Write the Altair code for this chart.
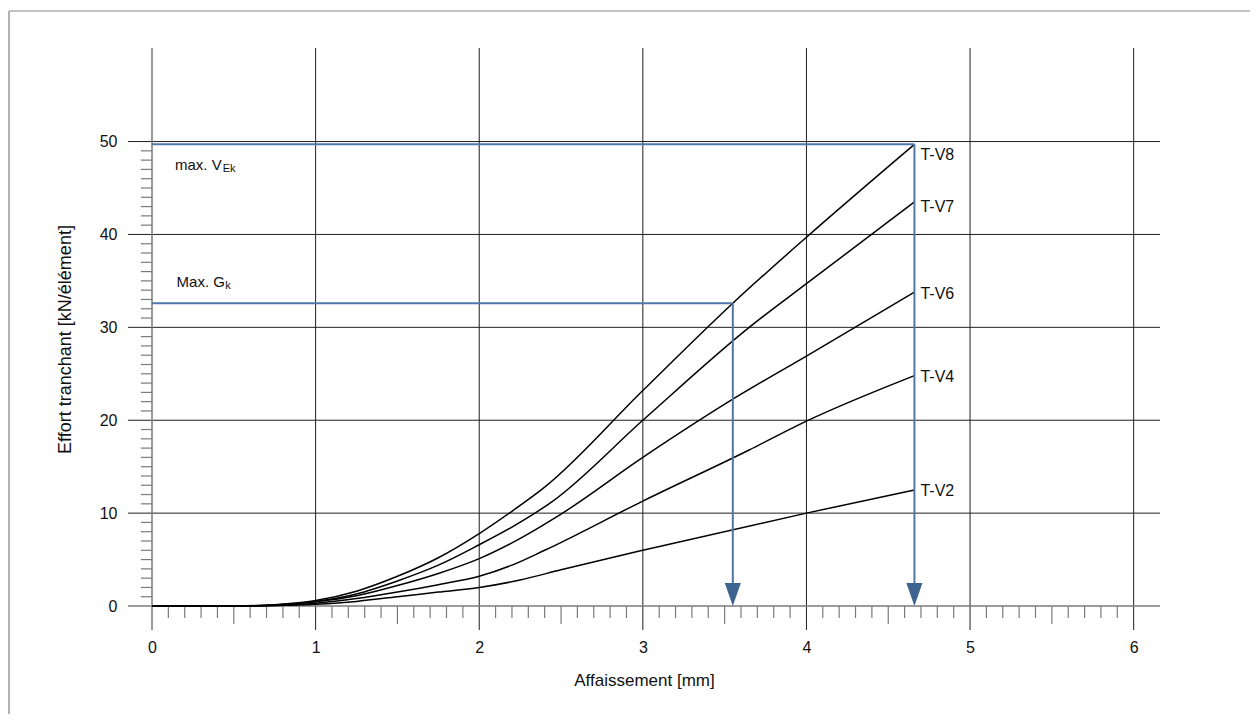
import altair as alt
import pandas as pd

# ---------------- data ----------------
series = ["T-V8", "T-V7", "T-V6", "T-V4", "T-V2"]

tv8_x = [0, 0.5, 0.75, 1.0, 1.25, 1.5, 1.75, 2.0, 2.2, 2.4, 3.0, 3.55, 4.0, 4.66]
tv8_y = [0, 0, 0.15, 0.6, 1.6, 3.2, 5.2, 7.8, 10.2, 12.8, 23.2, 32.6, 39.7, 49.7]

tv7_x = [0, 0.5, 0.75, 1.0, 1.25, 1.5, 1.75, 2.0, 2.2, 2.45, 3.0, 3.65, 4.0, 4.66]
tv7_y = [0, 0, 0.12, 0.5, 1.3, 2.7, 4.4, 6.6, 8.5, 11.3, 20.0, 30.0, 34.7, 43.5]

tv6_x = [0, 0.5, 0.75, 1.0, 1.25, 1.5, 1.75, 2.0, 2.2, 2.5, 3.0, 3.6, 4.0, 4.66]
tv6_y = [0, 0, 0.1, 0.45, 1.1, 2.2, 3.5, 5.1, 6.8, 9.9, 16.0, 22.8, 26.9, 33.8]

tv4_x = [0, 0.5, 0.75, 1.0, 1.25, 1.5, 1.75, 2.0, 2.2, 2.4, 3.0, 3.65, 4.0, 4.66]
tv4_y = [0, 0, 0.07, 0.3, 0.8, 1.5, 2.3, 3.2, 4.4, 6.0, 11.3, 16.8, 19.9, 24.8]

tv2_x = [0, 0.5, 0.75, 1.0, 1.25, 1.5, 1.75, 2.0, 2.25, 2.5, 3.0, 4.0, 4.66]
tv2_y = [0, 0, 0.05, 0.2, 0.5, 1.0, 1.5, 2.0, 2.8, 3.9, 6.0, 10.0, 12.5]

label_y = [48.6, 43.0, 33.6, 24.7, 12.4]
label_x = 4.66

x_ticks = [0, 1, 2, 3, 4, 5, 6]
y_ticks = [0, 10, 20, 30, 40, 50]

max_vek = 49.7
max_vek_x = 4.66
max_gk = 32.6
max_gk_x = 3.55

X_DOM = [-0.1467, 6.161]
Y_DOM = [-2.58, 60.07]

FONT = "Liberation Sans"
BLUE = "#4f78a6"
ARROW = "#3d6590"
GRID = "#1e1e1e"
AXIS = "#7a7a7a"
TXT = "#111111"

xs = alt.Scale(domain=X_DOM, nice=False, zero=False)
ys = alt.Scale(domain=Y_DOM, nice=False, zero=False)

# ---------------- tables ----------------
rows = []
for name, xv, yv in zip(series, [tv8_x, tv7_x, tv6_x, tv4_x, tv2_x],
                        [tv8_y, tv7_y, tv6_y, tv4_y, tv2_y]):
    for i, (a, b) in enumerate(zip(xv, yv)):
        rows.append({"s": name, "x": a, "y": b, "o": i})
curves = pd.DataFrame(rows)

labels = pd.DataFrame({"s": series, "x": [label_x] * 5, "y": label_y})

vgrid = pd.DataFrame({"x": [t for t in x_ticks if t != 0], "y": Y_DOM[0], "y2": Y_DOM[1]})
hgrid = pd.DataFrame({"y": [t for t in y_ticks if t != 0], "x": X_DOM[0], "x2": X_DOM[1]})

minor_x = [round(i / 10, 1) for i in range(1, 60) if i % 10 != 0]
xmin_df = pd.DataFrame({"x": minor_x,
                        "y2": [-1.94 if round(v * 10) % 5 == 0 else -1.29 for v in minor_x]})
xmin_df["y"] = 0
minor_y = [i for i in range(1, 50) if i % 10 != 0]
ymin_df = pd.DataFrame({"y": minor_y, "x": -0.068, "x2": 0})

blue_h = pd.DataFrame({"x": [0, 0], "x2": [max_vek_x, max_gk_x], "y": [max_vek, max_gk]})
blue_v = pd.DataFrame({"x": [max_vek_x, max_gk_x], "y": [max_vek, max_gk], "y2": [1.5, 1.5]})
arrows = pd.DataFrame({"x": [max_vek_x, max_gk_x], "y": [0, 0]})

ann_main = pd.DataFrame({"x": [0.1406, 0.15], "y": [47.5, 34.9], "t": ["max. V", "Max. G"]})
ann_sub = pd.DataFrame({"x": [0.432, 0.448], "y": [47.05, 34.4], "t": ["Ek", "k"]})

# ---------------- layers ----------------
base_x_axis = alt.Axis(values=x_ticks, format="d", title="Affaissement [mm]", domain=False,
                       ticks=False, grid=False, labelFontSize=16, labelPadding=9,
                       titleFontSize=17, titlePadding=17, labelFont=FONT, titleFont=FONT,
                       labelColor=TXT, titleColor=TXT, titleFontWeight="normal")
base_y_axis = alt.Axis(values=y_ticks, format="d", title="Effort tranchant [kN/élément]",
                       domain=False, ticks=False, grid=False, labelFontSize=16, labelPadding=11,
                       titleFontSize=18, titlePadding=25, labelFont=FONT, titleFont=FONT,
                       labelColor=TXT, titleColor=TXT, titleFontWeight="normal")

vgrid_l = alt.Chart(vgrid).mark_rule(color=GRID, strokeWidth=1).encode(
    x=alt.X("x:Q", scale=xs, axis=base_x_axis),
    y=alt.Y("y:Q", scale=ys, axis=base_y_axis),
    y2="y2:Q")
hgrid_l = alt.Chart(hgrid).mark_rule(color=GRID, strokeWidth=1).encode(
    x=alt.X("x:Q", scale=xs), x2="x2:Q", y=alt.Y("y:Q", scale=ys))

xaxis_line = alt.Chart(pd.DataFrame({"x": [X_DOM[0]], "x2": [X_DOM[1]], "y": [0]})).mark_rule(
    color=AXIS, strokeWidth=1.5).encode(x=alt.X("x:Q", scale=xs), x2="x2:Q", y=alt.Y("y:Q", scale=ys))
yaxis_line = alt.Chart(pd.DataFrame({"x": [0], "y": [Y_DOM[0]], "y2": [Y_DOM[1]]})).mark_rule(
    color=AXIS, strokeWidth=1.5).encode(x=alt.X("x:Q", scale=xs), y=alt.Y("y:Q", scale=ys), y2="y2:Q")

xmin_l = alt.Chart(xmin_df).mark_rule(color=AXIS, strokeWidth=1.2).encode(
    x=alt.X("x:Q", scale=xs), y=alt.Y("y:Q", scale=ys), y2="y2:Q")
ymin_l = alt.Chart(ymin_df).mark_rule(color=AXIS, strokeWidth=1.2).encode(
    x=alt.X("x:Q", scale=xs), x2="x2:Q", y=alt.Y("y:Q", scale=ys))

blue_h_l = alt.Chart(blue_h).mark_rule(color=BLUE, strokeWidth=2).encode(
    x=alt.X("x:Q", scale=xs), x2="x2:Q", y=alt.Y("y:Q", scale=ys))
blue_v_l = alt.Chart(blue_v).mark_rule(color=BLUE, strokeWidth=2).encode(
    x=alt.X("x:Q", scale=xs), y=alt.Y("y:Q", scale=ys), y2="y2:Q")
arrow_l = alt.Chart(arrows).mark_point(
    shape="M-0.7,-1L0.7,-1L0,1Z", filled=True, size=529, color=ARROW, opacity=1,
    yOffset=-11.5).encode(x=alt.X("x:Q", scale=xs), y=alt.Y("y:Q", scale=ys))

curve_l = alt.Chart(curves).mark_line(color="black", strokeWidth=1.5, interpolate="monotone").encode(
    x=alt.X("x:Q", scale=xs), y=alt.Y("y:Q", scale=ys), detail="s:N", order="o:Q")

label_l = alt.Chart(labels).mark_text(align="left", baseline="middle", dx=6, fontSize=16,
                                      font=FONT, color=TXT).encode(
    x=alt.X("x:Q", scale=xs), y=alt.Y("y:Q", scale=ys), text="s:N")

ann_l = alt.Chart(ann_main).mark_text(align="left", baseline="middle", fontSize=15,
                                      font=FONT, color=TXT).encode(
    x=alt.X("x:Q", scale=xs), y=alt.Y("y:Q", scale=ys), text="t:N")
sub_l = alt.Chart(ann_sub).mark_text(align="left", baseline="middle", fontSize=11,
                                     font=FONT, color=TXT).encode(
    x=alt.X("x:Q", scale=xs), y=alt.Y("y:Q", scale=ys), text="t:N")

frame_top = alt.Chart(pd.DataFrame({"a": [0]})).mark_rule(color="#c4c4c4", strokeWidth=2).encode(
    x=alt.value(-119), x2=alt.value(1140), y=alt.value(-37))
frame_left = alt.Chart(pd.DataFrame({"a": [0]})).mark_rule(color="#9a9a9a", strokeWidth=1.5).encode(
    x=alt.value(-119), y=alt.value(-37), y2=alt.value(700))

chart = alt.layer(
    frame_top, frame_left, vgrid_l, hgrid_l, xmin_l, ymin_l, xaxis_line, yaxis_line,
    curve_l, blue_h_l, blue_v_l, arrow_l, label_l, ann_l, sub_l
).properties(
    width=1032, height=582,
    padding={"left": 120, "top": 40, "right": 90, "bottom": 84},
    autosize=alt.AutoSizeParams(type="none"),
).configure(background="white", view=alt.ViewConfig(stroke=None))

chart.save("out.html", embed_options={"renderer": "svg", "actions": False})
